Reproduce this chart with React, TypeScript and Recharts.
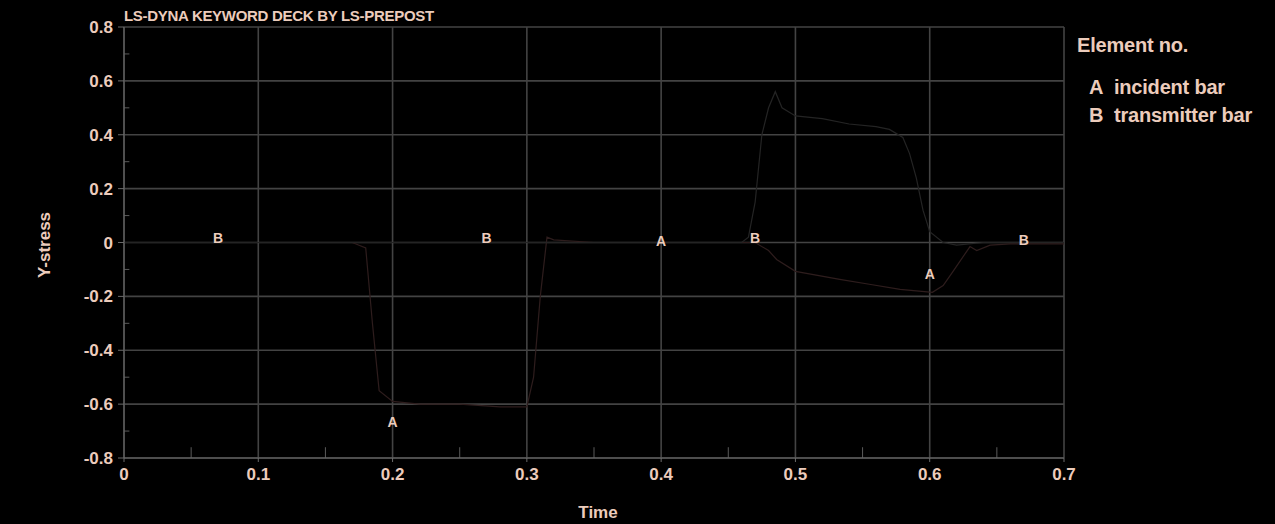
import React from 'react';
import {
  ComposedChart,
  Line,
  Scatter,
  XAxis,
  YAxis,
  CartesianGrid,
  ReferenceLine,
} from 'recharts';

// Incident bar (A)
const timeA = [0, 0.17, 0.18, 0.185, 0.19, 0.2, 0.22, 0.25, 0.28, 0.3, 0.305, 0.31, 0.315, 0.32, 0.35, 0.4, 0.45, 0.47, 0.48, 0.486, 0.5, 0.533, 0.555, 0.578, 0.602, 0.61, 0.617, 0.63, 0.635, 0.645, 0.66, 0.7];
const stressA = [0, 0, -0.02, -0.3, -0.55, -0.59, -0.6, -0.6, -0.61, -0.61, -0.5, -0.2, 0.02, 0.01, 0, 0, 0, 0, -0.03, -0.063, -0.107, -0.137, -0.155, -0.174, -0.185, -0.16, -0.11, -0.015, -0.03, -0.01, -0.005, -0.005];

// Transmitter bar (B)
const timeB = [0, 0.46, 0.465, 0.47, 0.475, 0.48, 0.485, 0.49, 0.5, 0.52, 0.54, 0.56, 0.57, 0.58, 0.585, 0.59, 0.595, 0.6, 0.61, 0.62, 0.64, 0.66, 0.7];
const stressB = [0, 0, 0.02, 0.15, 0.4, 0.5, 0.56, 0.5, 0.47, 0.46, 0.44, 0.43, 0.42, 0.39, 0.33, 0.24, 0.12, 0.04, 0, -0.01, 0, 0, 0];

// Curve labels
const markerTime = [0.07, 0.2, 0.27, 0.4, 0.47, 0.6, 0.67];
const markerStress = [0.018, -0.667, 0.018, 0.005, 0.018, -0.118, 0.01];
const markerLetter = ['B', 'A', 'B', 'A', 'B', 'A', 'B'];

const xTicks = [0, 0.1, 0.2, 0.3, 0.4, 0.5, 0.6, 0.7];
const yTicks = [-0.8, -0.6, -0.4, -0.2, 0, 0.2, 0.4, 0.6, 0.8];
const xMinor = [0.05, 0.15, 0.25, 0.35, 0.45, 0.55, 0.65];
const yMinor = [-0.7, -0.5, -0.3, -0.1, 0.1, 0.3, 0.5, 0.7];

const dataA = timeA.map((t, i) => ({ t, v: stressA[i] }));
const dataB = timeB.map((t, i) => ({ t, v: stressB[i] }));
const markers = markerTime.map((t, i) => ({ t, v: markerStress[i], label: markerLetter[i] }));

const TXT = '#ecccbc';
const FONT = '"Liberation Sans", Arial, sans-serif';

const fmt = (v: number) => (Math.abs(v) < 1e-9 ? '0' : String(Math.round(v * 10) / 10));

const MarkerShape = (props: any) => (
  <text
    x={props.cx}
    y={props.cy}
    textAnchor="middle"
    dominantBaseline="central"
    fill={TXT}
    fontFamily={FONT}
    fontWeight="bold"
    fontSize={14}
  >
    {props.payload.label}
  </text>
);

const bold = { color: TXT, fontWeight: 'bold' as const, position: 'absolute' as const, whiteSpace: 'nowrap' as const };

export default function App() {
  return (
    <div style={{ position: 'absolute', left: 0, top: 0, width: 1275, height: 524, background: '#000', fontFamily: FONT }}>
      <div style={{ ...bold, left: 124, top: 7, fontSize: 15, letterSpacing: -0.3 }}>
        LS-DYNA KEYWORD DECK BY LS-PREPOST
      </div>
      <div style={{ ...bold, left: 1077, top: 32, fontSize: 20, lineHeight: '26px', letterSpacing: -0.2 }}>Element no.</div>
      <div style={{ ...bold, left: 1089, top: 74, fontSize: 20, lineHeight: '26px', letterSpacing: -0.2 }}>A&nbsp; incident bar</div>
      <div style={{ ...bold, left: 1089, top: 102, fontSize: 20, lineHeight: '26px', letterSpacing: -0.2 }}>B&nbsp; transmitter bar</div>
      <div style={{ ...bold, left: 45, top: 245, fontSize: 17, transform: 'translate(-50%, -50%) rotate(-90deg)' }}>Y-stress</div>
      <div style={{ ...bold, left: 598, top: 513, fontSize: 17, transform: 'translate(-50%, -50%)' }}>Time</div>
      <ComposedChart width={1275} height={524} margin={{ top: 27, right: 211, bottom: 0, left: 0 }}>
        <CartesianGrid stroke="#434343" strokeWidth={1.6} />
        <XAxis
          type="number"
          dataKey="t"
          domain={[0, 0.7]}
          ticks={xTicks}
          tickFormatter={fmt}
          height={66}
          stroke="#6a6a6a"
          tickSize={4}
          tickMargin={6}
          tick={{ fill: TXT, fontSize: 17, fontWeight: 'bold', fontFamily: FONT }}
          allowDuplicatedCategory={false}
        />
        <YAxis
          type="number"
          domain={[-0.8, 0.8]}
          ticks={yTicks}
          tickFormatter={fmt}
          width={124}
          stroke="#6a6a6a"
          tickSize={6}
          tickMargin={5}
          tick={{ fill: TXT, fontSize: 17, fontWeight: 'bold', fontFamily: FONT }}
        />
        {xMinor.map((x) => (
          <ReferenceLine key={'xm' + x} segment={[{ x, y: -0.8 }, { x, y: -0.76 }]} stroke="#5a5a5a" />
        ))}
        {yMinor.map((y) => (
          <ReferenceLine key={'ym' + y} segment={[{ x: 0, y }, { x: 0.004, y }]} stroke="#5a5a5a" />
        ))}
        <Line data={dataA} dataKey="v" type="linear" stroke="#2e1d1d" strokeWidth={1.2} dot={false} isAnimationActive={false} />
        <Line data={dataB} dataKey="v" type="linear" stroke="#242424" strokeWidth={1.2} dot={false} isAnimationActive={false} />
        <Scatter data={markers} dataKey="v" shape={MarkerShape} isAnimationActive={false} />
      </ComposedChart>
    </div>
  );
}
